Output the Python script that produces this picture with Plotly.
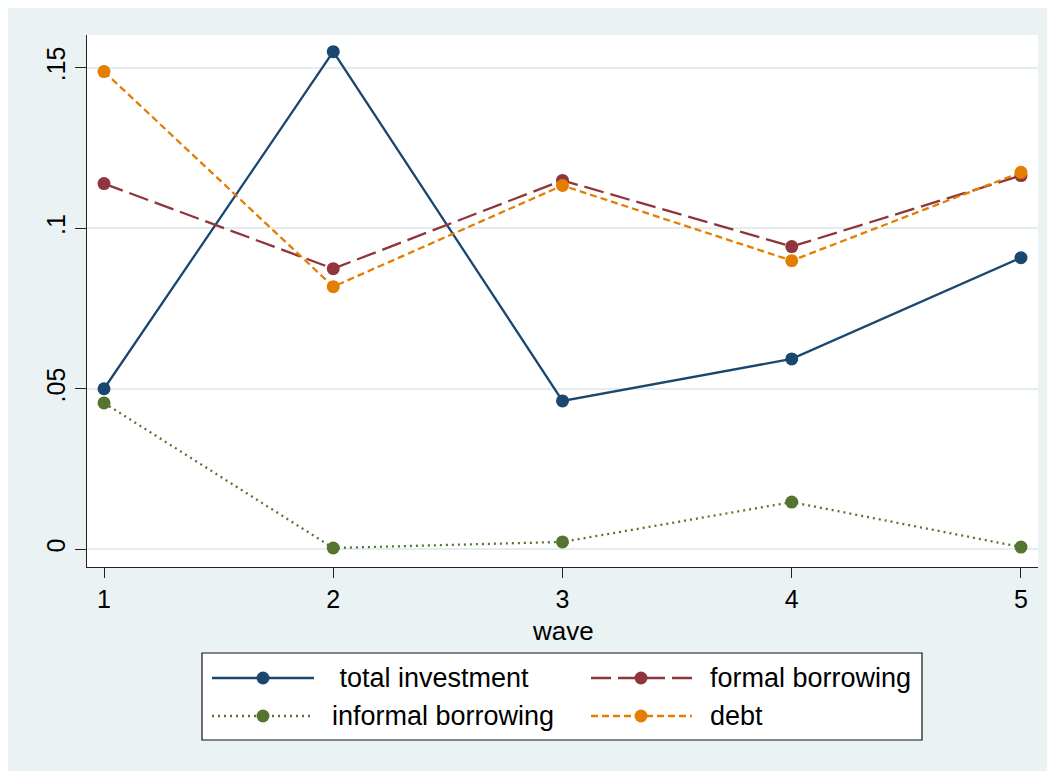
import plotly.graph_objects as go

# Survey waves and mean shares per wave
waves = [1, 2, 3, 4, 5]
total_investment = [0.0500, 0.1550, 0.0462, 0.0593, 0.0908]
formal_borrowing = [0.1139, 0.0874, 0.1149, 0.0943, 0.1164]
informal_borrowing = [0.0456, 0.0004, 0.0023, 0.0147, 0.0007]
debt = [0.1488, 0.0818, 0.1133, 0.0899, 0.1174]

series_names = ["\u00a0total investment", "formal borrowing", "informal borrowing", "debt"]
y_tickvals = [0, 0.05, 0.1, 0.15]
y_ticktext = ["0", ".05", ".1", ".15"]
x_title = "wave"

colors = ["#1A476F", "#90353B", "#55752F", "#E37E00"]
dashes = ["solid", "20px,7px", "2px,4px", "7px,4px"]
line_w = 2.3

W, H = 1054, 771
L, R, T, B = 87, 16, 35, 204
PW, PH = W - L - R, H - T - B
FONT = "Liberation Sans, Arial, Helvetica, sans-serif"
BG = "#EAF2F3"


def px_x(px):
    return (px - L) / PW


def px_y(py):
    return (H - B - py) / PH


fig = go.Figure()
for name, vals, col, dash in zip(series_names, [total_investment, formal_borrowing, informal_borrowing, debt], colors, dashes):
    fig.add_trace(go.Scatter(
        x=waves, y=vals, name=name.strip(), mode="lines+markers",
        line=dict(color=col, width=line_w, dash=dash),
        marker=dict(color=col, size=13, line=dict(width=0)),
        showlegend=False,
    ))

shapes = [
    # outer graph region
    dict(type="rect", xref="paper", yref="paper", x0=px_x(8), x1=px_x(1047), y0=px_y(771), y1=px_y(8),
         fillcolor=BG, line=dict(width=0), layer="below"),
    # plot region
    dict(type="rect", xref="paper", yref="paper", x0=0, x1=1, y0=0, y1=1,
         fillcolor="white", line=dict(width=0), layer="below"),
    # legend frame
    dict(type="rect", xref="paper", yref="paper", x0=px_x(202), x1=px_x(922), y0=px_y(740), y1=px_y(653),
         fillcolor="white", line=dict(color="#111111", width=1.2), layer="above"),
]

# x-axis title
annotations = [dict(x=0.5, y=px_y(615), xref="paper", yref="paper", text=x_title, showarrow=False,
                    xanchor="center", yanchor="top", borderpad=0,
                    font=dict(family=FONT, size=26, color="black"))]

# legend keys: two columns, two rows
key_pos = [(212, 314, 263, 678, 330), (591, 692, 641, 678, 708),
           (212, 314, 263, 716, 330), (591, 692, 641, 716, 708)]
for (lx0, lx1, mx, ry, tx), name, col, dash in zip(key_pos, series_names, colors, dashes):
    shapes.append(dict(type="line", xref="paper", yref="paper", x0=px_x(lx0), x1=px_x(lx1),
                       y0=px_y(ry), y1=px_y(ry), line=dict(color=col, width=line_w, dash=dash), layer="above"))
    shapes.append(dict(type="circle", xref="paper", yref="paper", xsizemode="pixel", ysizemode="pixel",
                       xanchor=px_x(mx), yanchor=px_y(ry), x0=-6.5, x1=6.5, y0=-6.5, y1=6.5,
                       fillcolor=col, line=dict(width=0), layer="above"))
    annotations.append(dict(x=px_x(tx), y=px_y(ry), xref="paper", yref="paper", text=name,
                            showarrow=False, xanchor="left", yanchor="middle",
                            font=dict(family=FONT, size=27, color="black")))

fig.update_layout(
    width=W, height=H,
    margin=dict(l=L, r=R, t=T, b=B, pad=0),
    paper_bgcolor="white", plot_bgcolor="white",
    font=dict(family=FONT, size=25, color="black"),
    shapes=shapes, annotations=annotations,
    showlegend=False,
)
fig.update_xaxes(
    range=[0.9258, 5.0742], tickvals=waves, ticktext=[str(w) for w in waves],
    showgrid=False, zeroline=False, showline=True, linecolor="#222222", linewidth=1.2,
    ticks="outside", ticklen=10, tickwidth=1.2, tickcolor="#222222",
    tickfont=dict(size=25),
)
fig.update_yaxes(
    range=[-0.00551, 0.16018], tickvals=y_tickvals, ticktext=y_ticktext, tickangle=-90,
    showgrid=True, gridcolor="#E3ECEF", gridwidth=2, zeroline=False,
    showline=True, linecolor="#222222", linewidth=1.2,
    ticks="outside", ticklen=11, tickwidth=1.2, tickcolor="#222222",
    tickfont=dict(size=25),
)

fig.write_html("out.html")
